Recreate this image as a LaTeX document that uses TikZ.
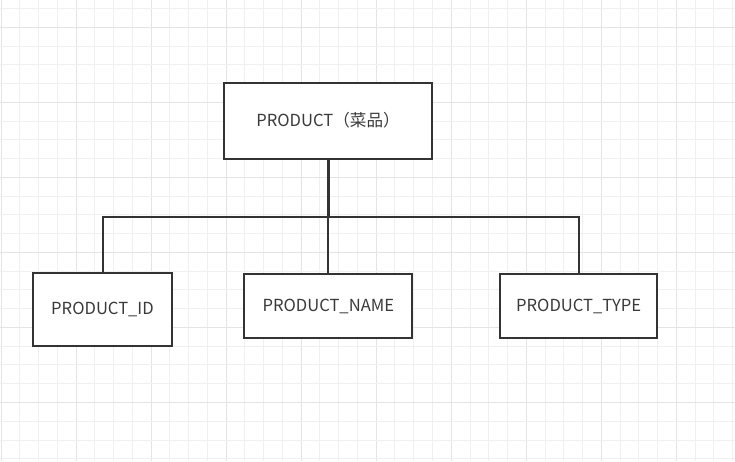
\documentclass[tikz,border=0pt]{standalone}
\usepackage{fontspec}
\setmainfont{Noto Sans CJK SC}
\definecolor{gridminor}{HTML}{F0F0F0}
\definecolor{gridmajor}{HTML}{E4E4E4}
\definecolor{edge}{HTML}{333333}
\definecolor{txt}{HTML}{3A3A3A}
\begin{document}
\begin{tikzpicture}[x=1pt,y=-1pt,
  entity/.style={draw=edge, line width=2pt, fill=white, text=txt, inner sep=0pt,
    font=\fontsize{16.6}{18}\selectfont},
  link/.style={draw=edge, line width=2pt},
  trunk/.style={draw=edge, line width=3pt}]
\useasboundingbox (0,0) rectangle (735,461);
\fill[white] (0,0) rectangle (735,461);
% grid
\foreach \k in {0,...,39}{
  \pgfmathtruncatemacro{\m}{mod(\k,4)}
  \ifnum\m=0
    \draw[gridmajor, line width=1pt] ({1+18.76*\k},0) -- ({1+18.76*\k},461);
  \else
    \draw[gridminor, line width=1pt] ({1+18.76*\k},0) -- ({1+18.76*\k},461);
  \fi
}
\foreach \k in {-1,...,23}{
  \pgfmathtruncatemacro{\m}{mod(\k+4,4)}
  \ifnum\m=0
    \draw[gridmajor, line width=1pt] (0,{27.3+18.76*\k}) -- (735,{27.3+18.76*\k});
  \else
    \draw[gridminor, line width=1pt] (0,{27.3+18.76*\k}) -- (735,{27.3+18.76*\k});
  \fi
}
% nodes
\node[entity, minimum width=208pt, minimum height=76pt] (product) at (328,120.5) {PRODUCT（菜品）};
\node[entity, minimum width=138.4pt, minimum height=73.6pt] (pid) at (102.5,309.5) {PRODUCT\_ID};
\node[entity, minimum width=168pt, minimum height=64pt] (pname) at (328.3,306.3) {PRODUCT\_NAME};
\node[entity, minimum width=157.3pt, minimum height=64pt] (ptype) at (578.7,306.3) {PRODUCT\_TYPE};
\coordinate (bus) at (328,216.7);
% connectors
\draw[link] (pid.north) -- (pid.north |- bus) -- (ptype.north |- bus) -- (ptype.north);
\draw[link] (pname.north |- bus) -- (pname.north);
\draw[trunk] (product.south) -- (product.south |- bus);
\end{tikzpicture}
\end{document}
